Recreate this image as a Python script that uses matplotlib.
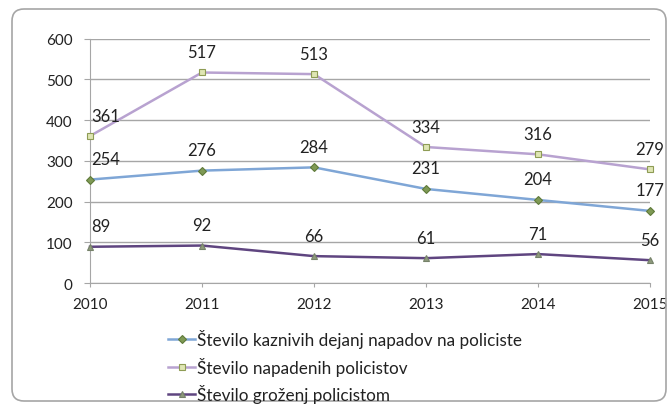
import matplotlib
matplotlib.use("Agg")
import matplotlib.pyplot as plt
from matplotlib.patches import FancyBboxPatch

plt.rcParams["font.family"] = ["Lato", "DejaVu Sans"]

years = [2010, 2011, 2012, 2013, 2014, 2015]
kazniva_dejanja = [254, 276, 284, 231, 204, 177]
napadeni_policisti = [361, 517, 513, 334, 316, 279]
grozenja = [89, 92, 66, 61, 71, 56]
labels = [
    "Število kaznivih dejanj napadov na policiste",
    "Število napadenih policistov",
    "Število groženj policistom",
]

fig = plt.figure(figsize=(6.67, 4.06), dpi=100, facecolor="white")

# rounded chart border
border = FancyBboxPatch((0.12, 0.04), 6.54, 3.92, boxstyle="round,pad=0,rounding_size=0.12",
                        transform=fig.dpi_scale_trans, facecolor="none", edgecolor="#a6a6a6",
                        linewidth=1.2)
fig.add_artist(border)

ax = fig.add_axes([90 / 667, 1 - 284 / 406, 560 / 667, 244.3 / 406])

series = [
    (kazniva_dejanja, "#7fa6d6", "D", 3.8, "#7f9a55", "#5f7a3a"),
    (napadeni_policisti, "#b8a2d0", "s", 4.8, "#dfe6b4", "#8e9c55"),
    (grozenja, "#5f4580", "^", 5.0, "#8e9a7c", "#76826a"),
]
for (vals, color, marker, ms, mface, medge), label in zip(series, labels):
    ax.plot(years, vals, color=color, linewidth=1.8, marker=marker, markersize=ms,
            markerfacecolor=mface, markeredgecolor=medge, markeredgewidth=0.8,
            label=label, clip_on=False, zorder=3)
    for x, y in zip(years, vals):
        if x == years[0]:
            ha, dx = "left", 1
        else:
            ha, dx = "center", 0
        ax.annotate(str(y), (x, y), xytext=(dx, 9), textcoords="offset points",
                    ha=ha, va="bottom", fontsize=12, color="#222222", annotation_clip=False)

ax.set_xlim(2010, 2015)
ax.set_ylim(0, 600)
ax.set_xticks(years)
ax.set_yticks(range(0, 601, 100))
ax.grid(axis="y", color="#a6a6a6", linewidth=1)
ax.set_axisbelow(True)
for spine in ["top", "right"]:
    ax.spines[spine].set_visible(False)
ax.spines["left"].set_color("#a6a6a6")
ax.spines["bottom"].set_color("#a6a6a6")
ax.tick_params(axis="y", length=4.5, color="#a6a6a6", pad=8, labelsize=11, labelcolor="#222222")
ax.tick_params(axis="x", length=3, color="#a6a6a6", pad=7, labelsize=11, labelcolor="#222222")

leg = fig.legend(loc="upper left", bbox_to_anchor=(168 / 667, 1 - 330 / 406), frameon=False,
                 fontsize=12.3, handlelength=1.6, handletextpad=0.1, labelspacing=0.5,
                 borderaxespad=0, borderpad=0)
for text in leg.get_texts():
    text.set_color("#222222")

fig.savefig("out.png", dpi=100)
plt.close(fig)
